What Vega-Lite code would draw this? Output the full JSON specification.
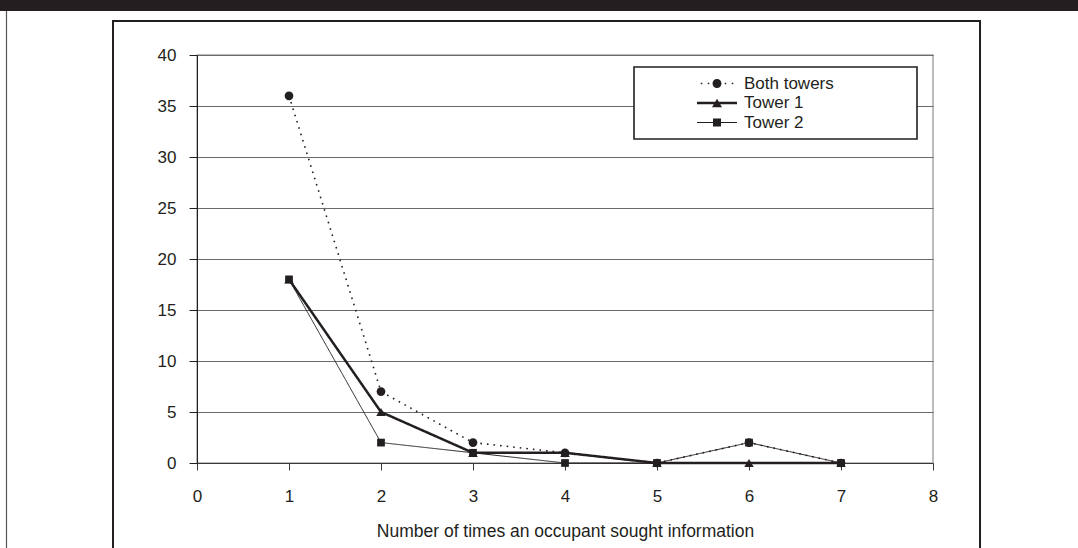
{
  "$schema": "https://vega.github.io/schema/vega-lite/v6.json",
  "width": 736,
  "height": 408,
  "autosize": "none",
  "padding": {"left": 197, "top": 55, "right": 145, "bottom": 85},
  "background": "#ffffff",
  "config": {
    "font": "Liberation Sans",
    "view": {"stroke": "#a6a6a6", "strokeWidth": 1.5}
  },
  "data": {
    "values": [
      {"n": 1, "value": 36, "series": "Both towers"},
      {"n": 2, "value": 7, "series": "Both towers"},
      {"n": 3, "value": 2, "series": "Both towers"},
      {"n": 4, "value": 1, "series": "Both towers"},
      {"n": 5, "value": 0, "series": "Both towers"},
      {"n": 6, "value": 2, "series": "Both towers"},
      {"n": 7, "value": 0, "series": "Both towers"},
      {"n": 1, "value": 18, "series": "Tower 1"},
      {"n": 2, "value": 5, "series": "Tower 1"},
      {"n": 3, "value": 1, "series": "Tower 1"},
      {"n": 4, "value": 1, "series": "Tower 1"},
      {"n": 5, "value": 0, "series": "Tower 1"},
      {"n": 6, "value": 0, "series": "Tower 1"},
      {"n": 7, "value": 0, "series": "Tower 1"},
      {"n": 1, "value": 18, "series": "Tower 2"},
      {"n": 2, "value": 2, "series": "Tower 2"},
      {"n": 3, "value": 1, "series": "Tower 2"},
      {"n": 4, "value": 0, "series": "Tower 2"},
      {"n": 5, "value": 0, "series": "Tower 2"},
      {"n": 6, "value": 2, "series": "Tower 2"},
      {"n": 7, "value": 0, "series": "Tower 2"}
    ]
  },
  "resolve": {"scale": {"shape": "independent"}, "legend": {"shape": "independent"}},
  "layer": [
    {
      "mark": {"type": "line", "color": "#231f20"},
      "encoding": {
        "x": {
          "field": "n",
          "type": "quantitative",
          "scale": {"domain": [0, 8], "nice": false, "zero": false},
          "axis": {
            "values": [0, 1, 2, 3, 4, 5, 6, 7, 8],
            "format": "d",
            "grid": false,
            "tickSize": 7,
            "tickColor": "#3a3a3a",
            "domainColor": "#3a3a3a",
            "domainWidth": 1.2,
            "labelFontSize": 17,
            "labelColor": "#231f20",
            "labelPadding": 18,
            "labelFlush": false,
            "title": "Number of times an occupant sought information",
            "titleFontSize": 17.5,
            "titleFontWeight": "normal",
            "titleColor": "#231f20",
            "titlePadding": 18
          }
        },
        "y": {
          "field": "value",
          "type": "quantitative",
          "scale": {"domain": [0, 40], "nice": false},
          "axis": {
            "values": [0, 5, 10, 15, 20, 25, 30, 35, 40],
            "format": "d",
            "grid": true,
            "gridColor": "#6b6b6b",
            "gridWidth": 1,
            "tickSize": 8,
            "tickColor": "#231f20",
            "domainColor": "#231f20",
            "labelFontSize": 17,
            "labelColor": "#231f20",
            "labelPadding": 13,
            "title": null
          }
        },
        "strokeDash": {
          "field": "series",
          "type": "nominal",
          "scale": {
            "domain": ["Both towers", "Tower 1", "Tower 2"],
            "range": [[1.6, 5], [1, 0], [1, 0]]
          },
          "legend": null
        },
        "strokeWidth": {
          "condition": [
            {"test": "datum.series === 'Tower 1'", "value": 2.5},
            {"test": "datum.series === 'Both towers'", "value": 1.6}
          ],
          "value": 1
        }
      }
    },
    {
      "mark": {"type": "point", "filled": true, "color": "#231f20", "opacity": 1},
      "encoding": {
        "x": {"field": "n", "type": "quantitative"},
        "y": {"field": "value", "type": "quantitative"},
        "shape": {
          "field": "series",
          "type": "nominal",
          "scale": {"domain": ["Both towers", "Tower 1", "Tower 2"], "range": ["circle", "triangle-up", "square"]},
          "legend": null
        },
        "size": {
          "condition": [
            {"test": "datum.series === 'Tower 1'", "value": 90},
            {"test": "datum.series === 'Tower 2'", "value": 60}
          ],
          "value": 76
        }
      }
    },
    {
      "transform": [{"filter": "false"}],
      "mark": {"type": "point", "filled": true, "color": "#231f20", "opacity": 1, "size": 100, "strokeWidth": 0},
      "encoding": {
        "x": {"field": "n", "type": "quantitative"},
        "y": {"field": "value", "type": "quantitative"},
        "shape": {
          "field": "series",
          "type": "nominal",
          "scale": {
            "domain": ["Both towers", "Tower 1", "Tower 2"],
            "range": [
              "M-2.1,0M51.7,0M10.05,-0.15H10.35V0.15H10.05ZM11.45,-0.15H11.75V0.15H11.45ZM14.85,-0.15H15.15V0.15H14.85ZM16.25,-0.15H16.55V0.15H16.25ZM12.4,0A0.9,0.9 0 1,0 14.2,0A0.9,0.9 0 1,0 12.4,0Z",
              "M-2.1,0M51.7,0M9.3,-0.25H17.3V0.25H9.3ZM13.3,-0.866L14.3,0.866L12.3,0.866Z",
              "M-2.1,0M51.7,0M9.3,-0.1H17.3V0.1H9.3ZM12.5,-0.8H14.1V0.8H12.5Z"
            ]
          },
          "legend": {
            "orient": "none",
            "legendX": 437,
            "legendY": 12,
            "title": null,
            "padding": 8,
            "strokeColor": "#231f20",
            "fillColor": "#ffffff",
            "labelFontSize": 17,
            "labelColor": "#231f20",
            "rowPadding": 1.5,
            "symbolSize": 100,
            "symbolStrokeWidth": 0,
            "labelOffset": 85,
            "encoding": {
              "legend": {"strokeWidth": {"value": 1.6}},
              "symbols": {
                "fill": {"value": "#231f20"},
                "fillOpacity": {"value": 1},
                "strokeWidth": {"value": 0}
              }
            }
          }
        }
      }
    },
    {
      "data": {"values": [{}]},
      "mark": {"type": "rect", "color": "#231f20", "clip": false},
      "encoding": {
        "x": {"datum": -2.2},
        "x2": {"datum": 9.7},
        "y": {"datum": 46},
        "y2": {"datum": 44.31}
      }
    },
    {
      "data": {"values": [{}]},
      "mark": {"type": "rule", "color": "#555555", "strokeWidth": 1.2, "clip": false},
      "encoding": {
        "x": {"datum": -2.0707},
        "y": {"datum": 44.31},
        "y2": {"datum": -9}
      }
    },
    {
      "data": {"values": [{}]},
      "mark": {"type": "rect", "filled": false, "color": "#231f20", "strokeWidth": 2, "clip": false},
      "encoding": {
        "x": {"datum": -0.913},
        "x2": {"datum": 8.511},
        "y": {"datum": 43.33},
        "y2": {"datum": -9}
      }
    }
  ]
}
